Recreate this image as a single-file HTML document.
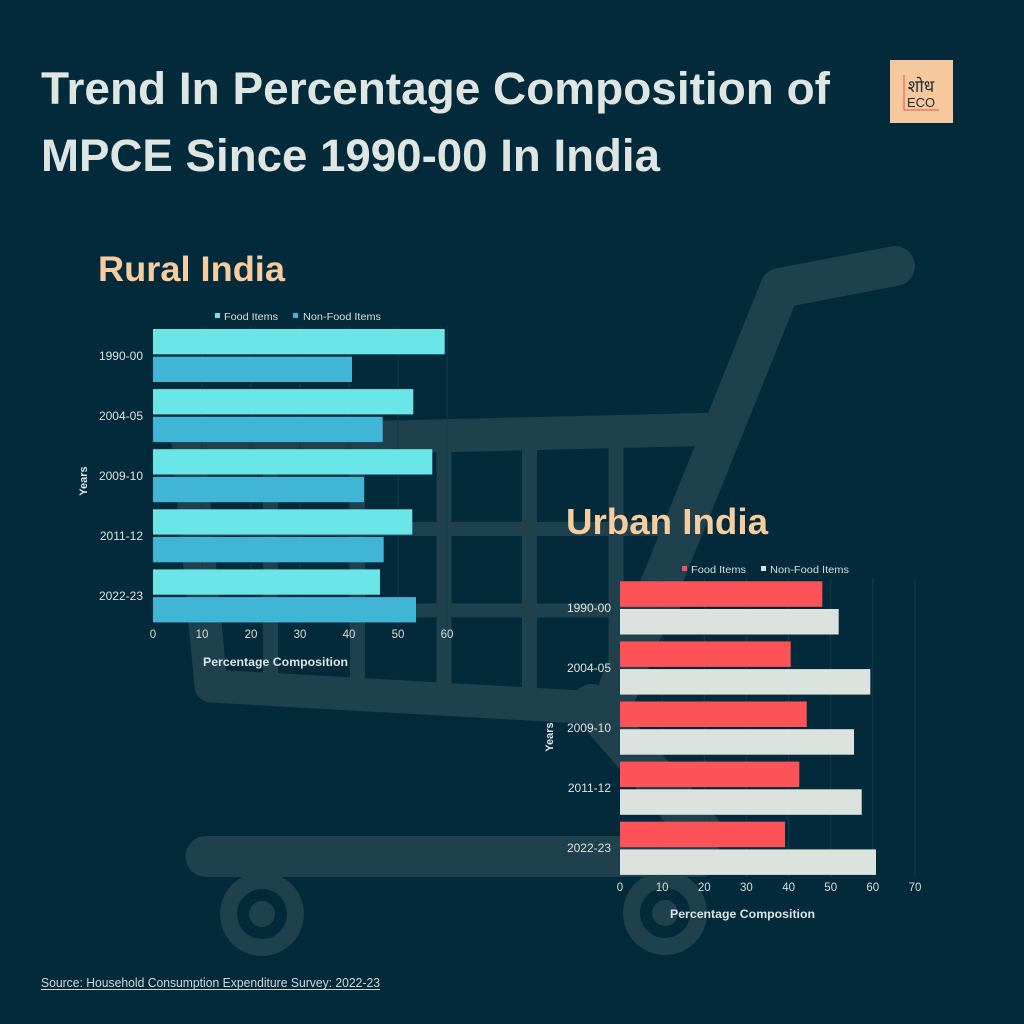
<!DOCTYPE html>
<html>
<head>
<meta charset="utf-8">
<style>
  html,body{margin:0;padding:0;background:#032a3a;}
  svg{display:block;}
  text{font-family:"Liberation Sans","DejaVu Sans",sans-serif;}
</style>
</head>
<body>
<svg width="1024" height="1024" viewBox="0 0 1024 1024" xmlns="http://www.w3.org/2000/svg">
  <rect width="1024" height="1024" fill="#032a3a"/>

  <!-- Shopping cart background -->
  <g stroke="#1e414d" fill="none" stroke-linejoin="round" stroke-linecap="round">
    <polyline points="895,266 780,288 618,690" stroke-width="40"/>
    <line x1="592" y1="705" x2="700" y2="830" stroke-width="42"/>
    <polyline points="722,429 188,442 211,686 600,708" stroke-width="33"/>
    <g stroke-linecap="butt" stroke-width="15">
      <line x1="270.5" y1="440" x2="270.5" y2="695"/>
      <line x1="357.5" y1="440" x2="357.5" y2="700"/>
      <line x1="444" y1="440" x2="444" y2="700"/>
      <line x1="529.5" y1="440" x2="529.5" y2="705"/>
      <line x1="616" y1="440" x2="616" y2="705"/>
    </g>
    <g stroke-linecap="butt" stroke-width="14">
      <line x1="196" y1="529" x2="700" y2="529"/>
      <line x1="198" y1="610.5" x2="680" y2="610.5"/>
    </g>
    <line x1="206" y1="856.5" x2="700" y2="856.5" stroke-width="41"/>
  </g>
  <!-- wheels -->
  <circle cx="262" cy="914" r="42" fill="#1e414d"/>
  <circle cx="262" cy="914" r="25" fill="#032a3a"/>
  <circle cx="262" cy="914" r="13" fill="#1e414d"/>
  <circle cx="665" cy="913" r="42" fill="#1e414d"/>
  <circle cx="665" cy="913" r="25" fill="#032a3a"/>
  <circle cx="665" cy="913" r="13" fill="#1e414d"/>

  <!-- Title -->
  <text x="41" y="104" font-size="45" font-weight="bold" fill="#dfe6e2" textLength="789" lengthAdjust="spacingAndGlyphs">Trend In Percentage Composition of</text>
  <text x="41" y="171" font-size="45" font-weight="bold" fill="#dfe6e2" textLength="619" lengthAdjust="spacingAndGlyphs">MPCE Since 1990-00 In India</text>

  <!-- Logo -->
  <rect x="890" y="60" width="63" height="63" fill="#f6c99c"/>
  <line x1="904" y1="75" x2="904" y2="110" stroke="#e8534f" stroke-width="1"/>
  <line x1="904" y1="110" x2="939" y2="110" stroke="#e8534f" stroke-width="1"/>
  <text x="921" y="92" font-size="17" text-anchor="middle" fill="#1c2c38" font-family="'Liberation Sans','Noto Sans CJK SC',sans-serif">शोध</text>
  <text x="907" y="107" font-size="13" fill="#1c2c38" textLength="28" lengthAdjust="spacingAndGlyphs">ECO</text>

  <!-- ================= RURAL ================= -->
  <text x="98" y="281" font-size="35" font-weight="bold" fill="#f7cda0" textLength="187" lengthAdjust="spacingAndGlyphs">Rural India</text>

  <!-- legend -->
  <rect x="215" y="313" width="5" height="5" fill="#6be6e8"/>
  <text x="224" y="320" font-size="10.5" fill="#d7dfdb" textLength="54" lengthAdjust="spacingAndGlyphs">Food Items</text>
  <rect x="293" y="313" width="5" height="5" fill="#41b5d5"/>
  <text x="303" y="320" font-size="10.5" fill="#d7dfdb" textLength="78" lengthAdjust="spacingAndGlyphs">Non-Food Items</text>

  <!-- gridlines -->
  <g stroke="#123b4a" stroke-width="1">
    <line x1="202" y1="326" x2="202" y2="626"/>
    <line x1="251" y1="326" x2="251" y2="626"/>
    <line x1="300" y1="326" x2="300" y2="626"/>
    <line x1="349" y1="326" x2="349" y2="626"/>
    <line x1="398" y1="326" x2="398" y2="626"/>
    <line x1="447" y1="326" x2="447" y2="626"/>
  </g>

  <!-- bars -->
  <g fill="#6be6e8">
    <rect x="153" y="329" width="291.7" height="25.3"/>
    <rect x="153" y="389.1" width="260.3" height="25.3"/>
    <rect x="153" y="449.2" width="279.3" height="25.3"/>
    <rect x="153" y="509.3" width="259.3" height="25.3"/>
    <rect x="153" y="569.4" width="227" height="25.3"/>
  </g>
  <g fill="#41b5d5">
    <rect x="153" y="356.7" width="199" height="25.3"/>
    <rect x="153" y="416.8" width="229.7" height="25.3"/>
    <rect x="153" y="476.9" width="211" height="25.3"/>
    <rect x="153" y="537" width="230.7" height="25.3"/>
    <rect x="153" y="597.1" width="263" height="25.3"/>
  </g>

  <!-- category labels -->
  <g font-size="12" fill="#dce4e0" text-anchor="end">
    <text x="143" y="360">1990-00</text>
    <text x="143" y="420">2004-05</text>
    <text x="143" y="480">2009-10</text>
    <text x="143" y="540">2011-12</text>
    <text x="143" y="600">2022-23</text>
  </g>

  <!-- tick labels -->
  <g font-size="11.5" fill="#d7dfdb" text-anchor="middle">
    <text x="153" y="638">0</text>
    <text x="202" y="638">10</text>
    <text x="251" y="638">20</text>
    <text x="300" y="638">30</text>
    <text x="349" y="638">40</text>
    <text x="398" y="638">50</text>
    <text x="447" y="638">60</text>
  </g>
  <text x="203" y="666" font-size="11.5" font-weight="bold" fill="#dce4e0" textLength="145" lengthAdjust="spacingAndGlyphs">Percentage Composition</text>
  <text transform="translate(87,481) rotate(-90)" font-size="11" font-weight="bold" fill="#dce4e0" text-anchor="middle">Years</text>

  <!-- ================= URBAN ================= -->
  <text x="566" y="534" font-size="36" font-weight="bold" fill="#f7cda0" textLength="202" lengthAdjust="spacingAndGlyphs">Urban India</text>

  <rect x="682" y="566" width="5" height="5" fill="#fd5358"/>
  <text x="691" y="573" font-size="10.5" fill="#d7dfdb" textLength="55" lengthAdjust="spacingAndGlyphs">Food Items</text>
  <rect x="761" y="566" width="5" height="5" fill="#dce3df"/>
  <text x="770" y="573" font-size="10.5" fill="#d7dfdb" textLength="79" lengthAdjust="spacingAndGlyphs">Non-Food Items</text>

  <g stroke="#123b4a" stroke-width="1">
    <line x1="662.1" y1="578" x2="662.1" y2="878"/>
    <line x1="704.3" y1="578" x2="704.3" y2="878"/>
    <line x1="746.4" y1="578" x2="746.4" y2="878"/>
    <line x1="788.6" y1="578" x2="788.6" y2="878"/>
    <line x1="830.7" y1="578" x2="830.7" y2="878"/>
    <line x1="872.8" y1="578" x2="872.8" y2="878"/>
    <line x1="915" y1="578" x2="915" y2="878"/>
  </g>

  <g fill="#fd5358">
    <rect x="620" y="581.3" width="202.3" height="25.5"/>
    <rect x="620" y="641.4" width="170.7" height="25.5"/>
    <rect x="620" y="701.5" width="186.7" height="25.5"/>
    <rect x="620" y="761.6" width="179.3" height="25.5"/>
    <rect x="620" y="821.7" width="165" height="25.5"/>
  </g>
  <g fill="#dce3df">
    <rect x="620" y="609" width="218.7" height="25.5"/>
    <rect x="620" y="669.1" width="250.3" height="25.5"/>
    <rect x="620" y="729.2" width="234" height="25.5"/>
    <rect x="620" y="789.3" width="241.7" height="25.5"/>
    <rect x="620" y="849.4" width="256" height="25.5"/>
  </g>

  <g font-size="12" fill="#dce4e0" text-anchor="end">
    <text x="611" y="612">1990-00</text>
    <text x="611" y="672">2004-05</text>
    <text x="611" y="732">2009-10</text>
    <text x="611" y="792">2011-12</text>
    <text x="611" y="852">2022-23</text>
  </g>

  <g font-size="11.5" fill="#d7dfdb" text-anchor="middle">
    <text x="620" y="891">0</text>
    <text x="662.1" y="891">10</text>
    <text x="704.3" y="891">20</text>
    <text x="746.4" y="891">30</text>
    <text x="788.6" y="891">40</text>
    <text x="830.7" y="891">50</text>
    <text x="872.8" y="891">60</text>
    <text x="915" y="891">70</text>
  </g>
  <text x="670" y="918" font-size="11.5" font-weight="bold" fill="#dce4e0" textLength="145" lengthAdjust="spacingAndGlyphs">Percentage Composition</text>
  <text transform="translate(553,737) rotate(-90)" font-size="11" font-weight="bold" fill="#dce4e0" text-anchor="middle">Years</text>

  <!-- Source -->
  <text x="41" y="987" font-size="12.5" fill="#cfd8d5" textLength="339" lengthAdjust="spacingAndGlyphs">Source: Household Consumption Expenditure Survey: 2022-23</text>
  <line x1="41" y1="989.5" x2="380" y2="989.5" stroke="#cfd8d5" stroke-width="1"/>
</svg>
</body>
</html>
